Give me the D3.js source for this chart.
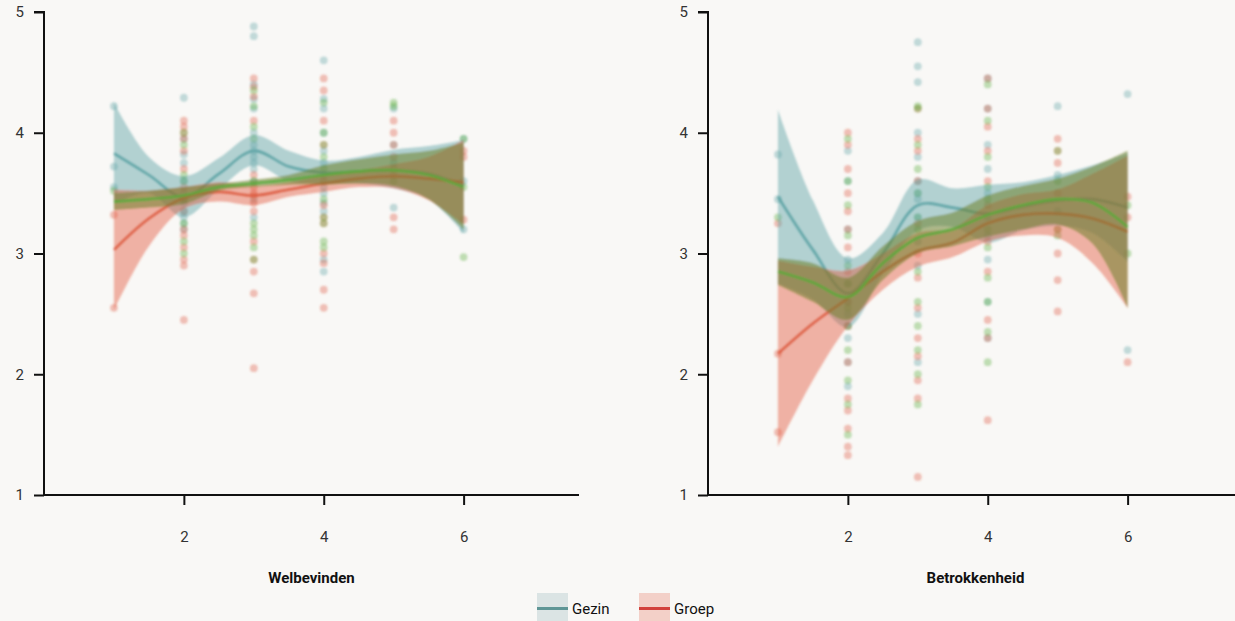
<!DOCTYPE html>
<html><head><meta charset="utf-8">
<script src="https://cdn.jsdelivr.net/npm/d3@7"></script>
<style>
html,body{margin:0;padding:0;background:#f9f8f6;}
svg{display:block;font-family:Roboto,"DejaVu Sans",sans-serif;}
</style></head><body>
<svg id="c" width="1235" height="621"></svg>
<script>
// ---------- data ----------
const seriesNames = ["Gezin", "Groep", "Totaal"];
const panelTitles = ["Welbevinden", "Betrokkenheid"];
const yTicks = [1, 2, 3, 4, 5];
const xTicks = [2, 4, 6];
const smoothX = [1, 1.5, 2, 2.5, 3, 3.5, 4, 4.5, 5, 5.5, 6];

// Welbevinden smooth fits
const welGezinFit   = [3.83, 3.65, 3.47, 3.66, 3.85, 3.72, 3.67, 3.68, 3.69, 3.66, 3.56];
const welGezinLo    = [3.41, 3.50, 3.30, 3.53, 3.73, 3.60, 3.58, 3.58, 3.54, 3.45, 3.17];
const welGezinHi    = [4.25, 3.80, 3.64, 3.79, 3.98, 3.85, 3.77, 3.80, 3.86, 3.89, 3.94];
const welGroepFit   = [3.03, 3.29, 3.46, 3.51, 3.48, 3.53, 3.58, 3.62, 3.64, 3.62, 3.59];
const welGroepLo    = [2.53, 3.06, 3.37, 3.43, 3.40, 3.47, 3.51, 3.55, 3.54, 3.44, 3.24];
const welGroepHi    = [3.53, 3.52, 3.55, 3.59, 3.56, 3.59, 3.65, 3.69, 3.74, 3.80, 3.94];
const welTotaalFit  = [3.43, 3.45, 3.48, 3.55, 3.58, 3.61, 3.65, 3.68, 3.69, 3.65, 3.55];
const welTotaalLo   = [3.36, 3.38, 3.41, 3.52, 3.55, 3.57, 3.57, 3.58, 3.56, 3.45, 3.20];
const welTotaalHi   = [3.50, 3.52, 3.55, 3.58, 3.61, 3.65, 3.73, 3.78, 3.82, 3.85, 3.92];

// Betrokkenheid smooth fits
const betGezinFit   = [3.47, 3.03, 2.67, 3.00, 3.40, 3.38, 3.33, 3.39, 3.44, 3.45, 3.38];
const betGezinLo    = [2.75, 2.62, 2.39, 2.83, 3.19, 3.22, 3.09, 3.19, 3.23, 3.17, 2.93];
const betGezinHi    = [4.19, 3.44, 2.96, 3.17, 3.61, 3.54, 3.57, 3.59, 3.65, 3.73, 3.83];
const betGroepFit   = [2.17, 2.42, 2.63, 2.85, 3.02, 3.09, 3.25, 3.32, 3.33, 3.29, 3.18];
const betGroepLo    = [1.40, 1.95, 2.40, 2.70, 2.89, 2.97, 3.10, 3.15, 3.13, 2.92, 2.55];
const betGroepHi    = [2.94, 2.89, 2.86, 3.00, 3.17, 3.21, 3.40, 3.49, 3.53, 3.66, 3.81];
const betTotaalFit  = [2.85, 2.76, 2.64, 2.92, 3.13, 3.20, 3.32, 3.40, 3.45, 3.42, 3.22];
const betTotaalLo   = [2.74, 2.60, 2.45, 2.78, 3.00, 3.06, 3.14, 3.20, 3.24, 3.08, 2.55];
const betTotaalHi   = [2.96, 2.92, 2.80, 3.06, 3.27, 3.34, 3.48, 3.56, 3.62, 3.72, 3.85];

// observed points: [x, score]
const welGezinPts = [[1,4.22],[1,3.72],[1,3.55],
  [2,4.29],[2,3.95],[2,3.82],[2,3.75],[2,3.6],[2,3.5],[2,3.42],[2,3.35],[2,3.3],[2,3.25],[2,3.2],
  [3,4.88],[3,4.8],[3,4.4],[3,4.28],[3,4.2],[3,4.0],[3,3.9],[3,3.85],[3,3.8],[3,3.75],[3,3.7],[3,3.6],[3,3.45],[3,3.3],
  [4,4.6],[4,4.28],[4,4.2],[4,4.0],[4,3.85],[4,3.75],[4,3.65],[4,3.55],[4,3.5],[4,3.42],[4,3.35],[4,2.95],[4,2.85],
  [5,4.2],[5,3.9],[5,3.75],[5,3.38],[6,3.95],[6,3.6],[6,3.2]];
const welGroepPts = [[1,3.32],[1,2.55],
  [2,4.1],[2,4.05],[2,4.0],[2,3.95],[2,3.85],[2,3.7],[2,3.55],[2,3.45],[2,3.35],[2,3.2],[2,3.15],[2,3.05],[2,2.95],[2,2.9],[2,2.45],
  [3,4.45],[3,4.38],[3,4.3],[3,4.1],[3,3.65],[3,3.55],[3,3.5],[3,3.48],[3,3.42],[3,3.35],[3,3.1],[3,2.95],[3,2.85],[3,2.67],[3,2.05],
  [4,4.45],[4,4.35],[4,4.1],[4,3.9],[4,3.6],[4,3.4],[4,3.3],[4,3.25],[4,3.0],[4,2.92],[4,2.7],[4,2.55],
  [5,4.1],[5,4.0],[5,3.9],[5,3.8],[5,3.65],[5,3.3],[5,3.2],[6,3.85],[6,3.8],[6,3.28]];
const welTotaalPts = [[1,3.52],
  [2,4.0],[2,3.9],[2,3.65],[2,3.6],[2,3.45],[2,3.25],[2,3.1],[2,3.0],
  [3,4.35],[3,4.22],[3,4.05],[3,3.95],[3,3.6],[3,3.25],[3,3.2],[3,3.15],[3,3.05],[3,2.95],
  [4,4.25],[4,4.0],[4,3.9],[4,3.8],[4,3.7],[4,3.45],[4,3.3],[4,3.25],[4,3.1],[4,3.05],
  [5,4.25],[5,4.22],[5,3.7],[5,3.6],[6,3.95],[6,3.55],[6,2.97]];
const betGezinPts = [[1,3.82],[1,3.45],
  [2,3.85],[2,3.6],[2,3.2],[2,2.95],[2,2.75],[2,2.6],[2,2.5],[2,2.4],[2,2.3],[2,2.1],[2,1.9],
  [3,4.75],[3,4.55],[3,4.42],[3,4.0],[3,3.8],[3,3.6],[3,3.5],[3,3.45],[3,3.3],[3,3.1],[3,2.9],[3,2.5],[3,2.1],
  [4,4.45],[4,4.2],[4,3.9],[4,3.7],[4,3.5],[4,3.3],[4,3.15],[4,2.95],[4,2.6],[4,2.3],
  [5,4.22],[5,3.65],[5,3.35],[6,4.32],[6,2.2]];
const betGroepPts = [[1,3.25],[1,2.17],[1,1.52],
  [2,4.0],[2,3.9],[2,3.7],[2,3.5],[2,3.35],[2,3.2],[2,3.05],[2,2.85],[2,2.6],[2,2.4],[2,2.1],[2,1.8],[2,1.7],[2,1.55],[2,1.4],[2,1.33],
  [3,4.2],[3,3.95],[3,3.85],[3,3.6],[3,3.25],[3,3.0],[3,2.8],[3,2.55],[3,2.3],[3,2.15],[3,1.95],[3,1.8],[3,1.15],
  [4,4.45],[4,4.2],[4,4.05],[4,3.85],[4,3.6],[4,3.4],[4,3.1],[4,2.85],[4,2.45],[4,2.3],[4,1.62],
  [5,3.95],[5,3.85],[5,3.75],[5,3.5],[5,3.2],[5,3.0],[5,2.78],[5,2.52],[6,3.47],[6,3.3],[6,2.1]];
const betTotaalPts = [[1,3.3],
  [2,3.95],[2,3.6],[2,3.4],[2,3.15],[2,2.9],[2,2.75],[2,2.55],[2,2.4],[2,2.2],[2,1.95],[2,1.75],[2,1.5],
  [3,4.22],[3,4.2],[3,3.9],[3,3.7],[3,3.5],[3,3.3],[3,3.2],[3,2.85],[3,2.6],[3,2.4],[3,2.2],[3,2.0],[3,1.75],
  [4,4.4],[4,4.1],[4,3.8],[4,3.55],[4,3.45],[4,3.2],[4,3.05],[4,2.8],[4,2.6],[4,2.35],[4,2.1],
  [5,3.85],[5,3.6],[5,3.2],[5,3.15],[6,3.4],[6,3.0]];

// ---------- build ----------
const colors = {Gezin:"#5ba2a4", Groep:"#dd5a40", Totaal:"#5aab3c"};
const ribbon = {Gezin:"#5ba2a4", Groep:"#e35c40", Totaal:"#70822d"};
const ribbonOpacity = {Gezin:0.45, Groep:0.45, Totaal:0.55};

const panels = [
  {title:panelTitles[0], left:44,
   series:[
     {name:"Gezin", fit:welGezinFit, lo:welGezinLo, hi:welGezinHi, pts:welGezinPts},
     {name:"Groep", fit:welGroepFit, lo:welGroepLo, hi:welGroepHi, pts:welGroepPts},
     {name:"Totaal", fit:welTotaalFit, lo:welTotaalLo, hi:welTotaalHi, pts:welTotaalPts}]},
  {title:panelTitles[1], left:708,
   series:[
     {name:"Gezin", fit:betGezinFit, lo:betGezinLo, hi:betGezinHi, pts:betGezinPts},
     {name:"Groep", fit:betGroepFit, lo:betGroepLo, hi:betGroepHi, pts:betGroepPts},
     {name:"Totaal", fit:betTotaalFit, lo:betTotaalLo, hi:betTotaalHi, pts:betTotaalPts}]}
];

const svg = d3.select("#c");
const defs = svg.append("defs");
defs.append("filter").attr("id","blurP").attr("x","-50%").attr("y","-50%").attr("width","200%").attr("height","200%")
  .append("feGaussianBlur").attr("stdDeviation",1.1);
defs.append("filter").attr("id","blurC").attr("x","-5%").attr("y","-5%").attr("width","110%").attr("height","110%")
  .append("feGaussianBlur").attr("stdDeviation",0.8);

const y = d3.scaleLinear().domain([1,5]).range([495,12]);
const plotW = 535;

panels.forEach(p => {
  const x = d3.scaleLinear().domain([0,7.65]).range([p.left, p.left+plotW]);
  const g = svg.append("g");

  // points
  const pg = g.append("g").attr("filter","url(#blurP)");
  p.series.forEach(s => {
    pg.selectAll(null).data(s.pts).enter().append("circle")
      .attr("cx", d => x(d[0])).attr("cy", d => y(d[1])).attr("r", 3.9)
      .attr("fill", colors[s.name]).attr("fill-opacity", 0.36);
  });

  // smooths
  const cg = g.append("g").attr("filter","url(#blurC)");
  const area = d3.area().curve(d3.curveCatmullRom.alpha(0.5))
    .x((d,i) => x(smoothX[i])).y0(d => y(d[0])).y1(d => y(d[1]));
  const line = d3.line().curve(d3.curveCatmullRom.alpha(0.5))
    .x((d,i) => x(smoothX[i])).y(d => y(d));
  p.series.forEach(s => {
    cg.append("path").attr("d", area(s.lo.map((v,i)=>[v, s.hi[i]])))
      .attr("fill", ribbon[s.name]).attr("fill-opacity", ribbonOpacity[s.name]);
    cg.append("path").attr("d", line(s.fit))
      .attr("fill","none").attr("stroke", colors[s.name]).attr("stroke-width", 2.6).attr("stroke-opacity",0.9);
  });

  // axes
  const ya = d3.axisLeft(y).tickValues(yTicks).tickSize(10).tickPadding(10).tickFormat(d3.format("d"));
  const ag = svg.append("g").attr("transform",`translate(${p.left},0)`).call(ya);
  ag.select(".domain").attr("stroke","#111").attr("stroke-width",2).attr("d",`M-10,${y(5)}H0V${y(1)}`);
  ag.selectAll(".tick line").attr("stroke","#111").attr("stroke-width",2);
  ag.selectAll(".tick text").attr("font-size",15).attr("fill","#333").attr("font-family","Roboto, sans-serif");

  const xa = d3.axisBottom(x).tickValues(xTicks).tickSize(10).tickPadding(26).tickFormat(d3.format("d"));
  const xg = svg.append("g").attr("transform",`translate(0,${y(1)})`).call(xa);
  xg.select(".domain").attr("stroke","#111").attr("stroke-width",2).attr("d",`M${p.left-1},0H${p.left+plotW}`);
  xg.selectAll(".tick line").attr("stroke","#111").attr("stroke-width",2);
  xg.selectAll(".tick text").attr("font-size",15).attr("fill","#333").attr("font-family","Roboto, sans-serif");

  svg.append("text").attr("x", p.left + plotW/2).attr("y", 583).attr("text-anchor","middle")
    .attr("font-size",15).attr("font-weight","bold").attr("fill","#111").text(p.title);
});

// legend
const legendItems = [{name:seriesNames[0], x:537, bg:"#dbe4e4", line:"#5f9696"},
                     {name:seriesNames[1], x:639, bg:"#f3d0c8", line:"#d2413c"}];
const lg = svg.append("g");
legendItems.forEach(it => {
  lg.append("rect").attr("x", it.x).attr("y", 593).attr("width", 31).attr("height", 31).attr("fill", it.bg);
  lg.append("line").attr("x1", it.x).attr("x2", it.x+31).attr("y1", 608.5).attr("y2", 608.5)
    .attr("stroke", it.line).attr("stroke-width", 3);
  lg.append("text").attr("x", it.x+35).attr("y", 614).attr("font-size",15).attr("fill","#111").text(it.name);
});
</script></body></html>
